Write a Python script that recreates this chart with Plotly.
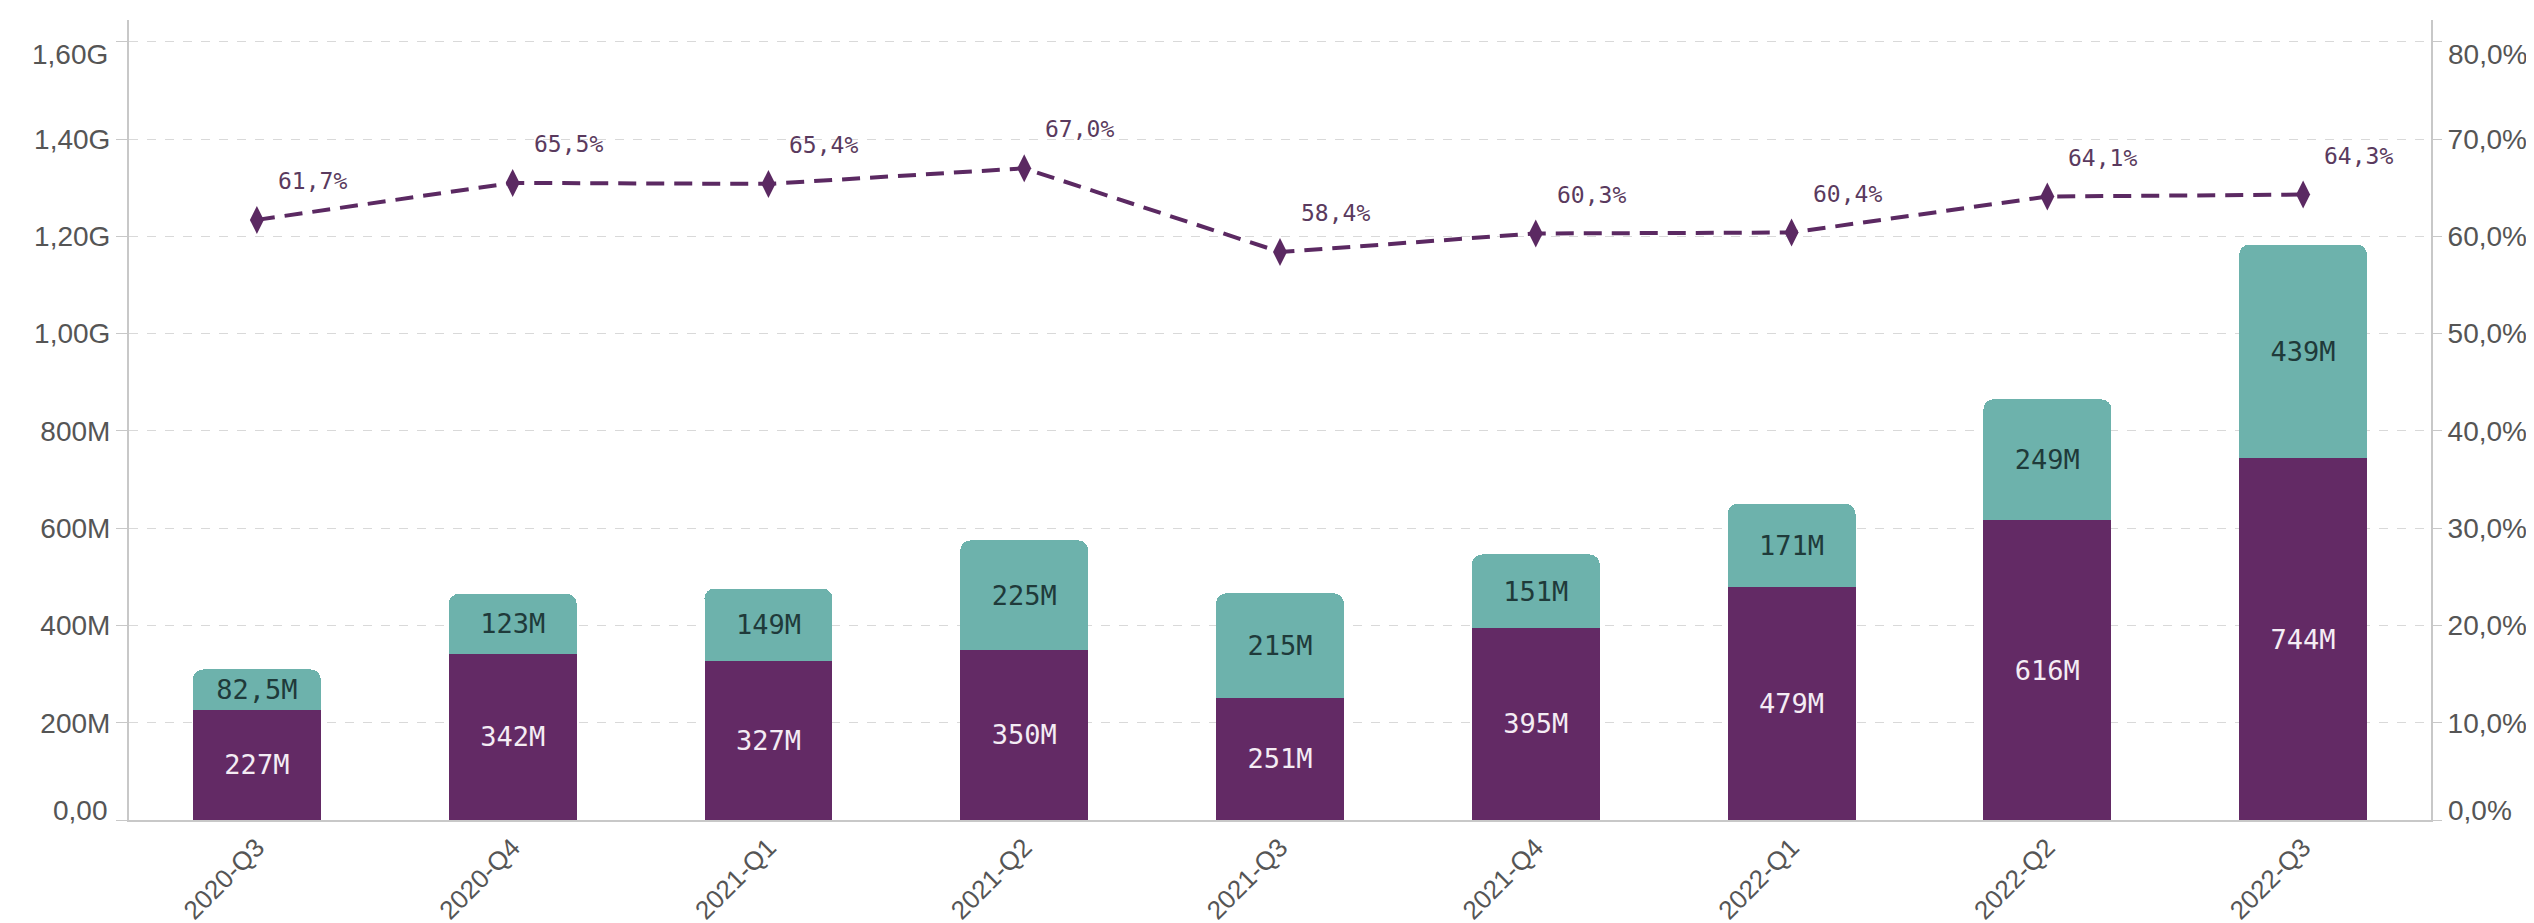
import plotly.graph_objects as go

quarters = ["2020-Q3", "2020-Q4", "2021-Q1", "2021-Q2", "2021-Q3",
            "2021-Q4", "2022-Q1", "2022-Q2", "2022-Q3"]
purple_vals_m = [227, 342, 327, 350, 251, 395, 479, 616, 744]
teal_vals_m = [82.5, 123, 149, 225, 215, 151, 171, 249, 439]
ratio_pct = [61.7, 65.5, 65.4, 67.0, 58.4, 60.3, 60.4, 64.1, 64.3]

left_tickvals = [0, 200e6, 400e6, 600e6, 800e6, 1.0e9, 1.2e9, 1.4e9, 1.6e9]
left_ticktext = ["0,00", "200M", "400M", "600M", "800M", "1,00G", "1,20G", "1,40G", "1,60G"]
right_tickvals = [0, 10, 20, 30, 40, 50, 60, 70, 80]
right_ticktext = ["0,0%", "10,0%", "20,0%", "30,0%", "40,0%", "50,0%", "60,0%", "70,0%", "80,0%"]

PURPLE = "#632a65"
TEAL = "#6db2ac"
LINE = "#5b2962"
AXIS_GRAY = "#c8c8c8"
LABEL_GRAY = "#555555"


def fmt_m(v):
    s = ("%.1f" % v) if v < 100 else ("%d" % round(v))
    return s.replace(".", ",") + "M"


def fmt_pct(v):
    return ("%.1f" % v).replace(".", ",") + "%"


purple_abs = [v * 1e6 for v in purple_vals_m]
teal_abs = [v * 1e6 for v in teal_vals_m]

fig = go.Figure()
fig.add_trace(go.Bar(
    x=quarters, y=purple_abs, marker=dict(color=PURPLE, line=dict(width=0)),
    text=[fmt_m(v) for v in purple_vals_m], textposition="inside",
    insidetextanchor="middle", constraintext="none", textangle=0,
    textfont=dict(family="DejaVu Sans Mono", size=27, color="#f4ecf4"),
    width=0.5, hoverinfo="skip"))
fig.add_trace(go.Bar(
    x=quarters, y=teal_abs, marker=dict(color=TEAL, line=dict(width=0)),
    text=[fmt_m(v) for v in teal_vals_m], textposition="inside",
    insidetextanchor="middle", constraintext="none", textangle=0,
    textfont=dict(family="DejaVu Sans Mono", size=27, color="#1f3a3a"),
    width=0.5, hoverinfo="skip"))
fig.add_trace(go.Scatter(
    x=quarters, y=ratio_pct, yaxis="y2", mode="lines+markers",
    line=dict(color=LINE, width=4, dash="18px,10px"),
    marker=dict(symbol="diamond-tall", size=20, color=LINE),
    hoverinfo="skip"))

for q, v in zip(quarters, ratio_pct):
    fig.add_annotation(x=q, y=v, yref="y2", text=fmt_pct(v), showarrow=False,
                       xanchor="left", yanchor="middle", xshift=19, yshift=39,
                       font=dict(family="DejaVu Sans Mono", size=23, color="#5a3a5e"))

axis_font = dict(family="Liberation Sans, Arial", size=28, color=LABEL_GRAY)

# the first and last value-axis labels sit inside the axis span (top aligned / bottom aligned)
left_inner = ["" if i in (0, len(left_ticktext) - 1) else t for i, t in enumerate(left_ticktext)]
right_inner = ["" if i in (0, len(right_ticktext) - 1) else t for i, t in enumerate(right_ticktext)]
for idx, anchor, shift in ((0, "bottom", -8), (len(left_tickvals) - 1, "top", 5)):
    fig.add_annotation(xref="paper", x=0, y=left_tickvals[idx], yref="y",
                       text=left_ticktext[idx], showarrow=False, xanchor="right",
                       yanchor=anchor, xshift=-19, yshift=shift, font=axis_font)
    fig.add_annotation(xref="paper", x=1, y=right_tickvals[idx], yref="y2",
                       text=right_ticktext[idx], showarrow=False, xanchor="left",
                       yanchor=anchor, xshift=15, yshift=shift, font=axis_font)

fig.update_layout(
    width=2534, height=923,
    margin=dict(l=121, r=111, t=12, b=111, autoexpand=False),
    paper_bgcolor="white", plot_bgcolor="white",
    barmode="stack", barcornerradius=10, showlegend=False,
    xaxis=dict(type="category", range=[-0.5, 8.5], tickangle=-45,
               tickfont=dict(family="Liberation Sans, Arial", size=26, color=LABEL_GRAY),
               showline=True, linecolor=AXIS_GRAY, linewidth=2,
               ticks="", showgrid=False),
    yaxis=dict(range=[0, 1.645e9], tickvals=left_tickvals, ticktext=left_inner,
               tickfont=axis_font, showline=True, linecolor=AXIS_GRAY, linewidth=2,
               ticks="outside", ticklen=11, tickcolor=AXIS_GRAY, tickwidth=1,
               showgrid=True, gridcolor="#d9d9d9", griddash="dash", gridwidth=1,
               zeroline=False),
    yaxis2=dict(range=[0, 82.25], overlaying="y", side="right",
                tickvals=right_tickvals, ticktext=right_inner, tickfont=axis_font,
                showline=True, linecolor=AXIS_GRAY, linewidth=2,
                ticks="outside", ticklen=9, tickcolor=AXIS_GRAY, tickwidth=1,
                showgrid=False, zeroline=False),
)

fig.write_html("out.html")
